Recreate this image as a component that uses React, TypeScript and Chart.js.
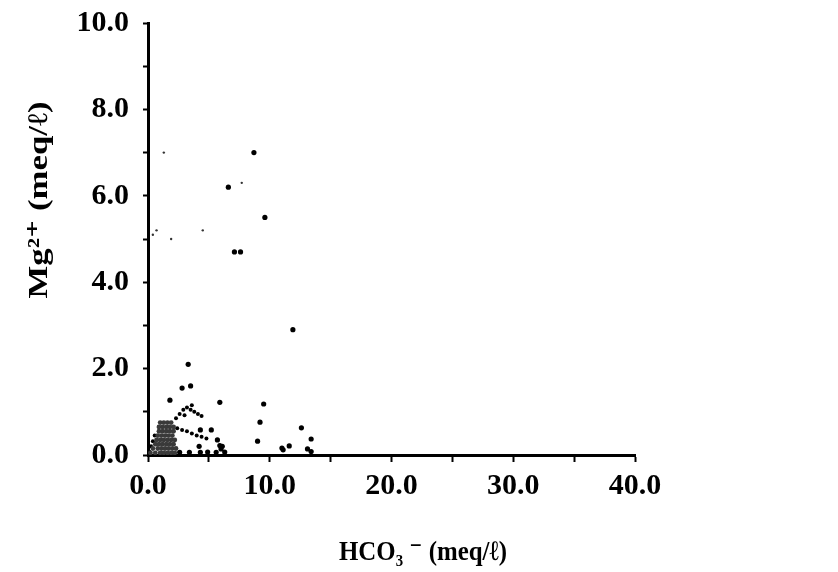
import React, { useEffect, useRef } from "react";
import { Chart, registerables } from "chart.js";

Chart.register(...registerables);

// Isolated sample points: HCO3- (meq/l) vs Mg2+ (meq/l)
const mainX = [8.7, 6.6, 9.6, 7.1, 7.6, 11.9, 3.3, 2.8, 3.5, 1.8, 5.9, 9.5, 9.2, 12.6, 13.4, 9.0, 11.6, 11.1, 11.0, 13.1, 13.4, 4.3, 5.2, 5.7, 5.9, 6.0, 4.2, 6.1, 2.6, 3.4, 4.3, 4.9, 5.6, 6.3];
const mainY = [7.0, 6.2, 5.5, 4.7, 4.7, 2.9, 2.1, 1.55, 1.6, 1.27, 1.22, 1.18, 0.76, 0.63, 0.37, 0.32, 0.21, 0.12, 0.16, 0.14, 0.08, 0.58, 0.58, 0.35, 0.22, 0.14, 0.2, 0.2, 0.06, 0.06, 0.06, 0.07, 0.06, 0.07];

// Faint small marks
const faintX = [1.3, 0.7, 0.4, 4.5, 7.7, 1.9];
const faintY = [7.0, 5.2, 5.1, 5.2, 6.3, 5.0];

// Dense cluster near the origin (overlapping samples)
const clusterX = [
  1.0, 1.3, 1.6, 1.9,
  0.9, 1.2, 1.5, 1.8, 2.1,
  0.9, 1.2, 1.5, 1.8, 2.1,
  0.8, 1.1, 1.4, 1.7, 2.0,
  0.7, 1.0, 1.3, 1.6, 1.9, 2.2,
  0.6, 0.9, 1.2, 1.5, 1.8, 2.1,
  0.4, 0.8, 1.1, 1.4, 1.7, 2.0, 2.3,
  0.2, 0.6, 1.0, 1.3, 1.6, 1.9, 2.2,
];
const clusterY = [
  0.75, 0.75, 0.75, 0.75,
  0.65, 0.65, 0.65, 0.65, 0.65,
  0.55, 0.55, 0.55, 0.55, 0.55,
  0.45, 0.45, 0.45, 0.45, 0.45,
  0.35, 0.35, 0.35, 0.35, 0.35, 0.35,
  0.25, 0.25, 0.25, 0.25, 0.25, 0.25,
  0.15, 0.15, 0.15, 0.15, 0.15, 0.15, 0.15,
  0.05, 0.05, 0.05, 0.05, 0.05, 0.05, 0.05,
];

// Branching streaks of points to the right of the cluster
const branchX = [2.3, 2.6, 2.9, 3.2, 3.5, 3.8, 4.1, 4.4, 3.0, 3.6, 2.4, 2.8, 3.2, 3.6, 4.0, 4.4, 4.8, 0.1, 0.25, 0.4, 0.55];
const branchY = [0.85, 0.95, 1.05, 1.1, 1.05, 1.0, 0.95, 0.9, 0.92, 1.15, 0.62, 0.58, 0.55, 0.5, 0.45, 0.42, 0.38, 0.08, 0.2, 0.32, 0.45];

const xMin = 0;
const xMax = 40;
const yMin = 0;
const yMax = 10;
const xTitle = "HCO\u2083 \u207B (meq/\u2113)";
const yTitle = "Mg\u00B2\u207A (meq/\u2113)";

const pts = (xs: number[], ys: number[]) => xs.map((x, i) => ({ x, y: ys[i] }));

const FONT = "'Liberation Serif', 'DejaVu Serif', serif";

const titlePlugin = {
  id: "axisTitles",
  afterDraw(chart: any) {
    const { ctx, chartArea } = chart;
    ctx.save();
    ctx.fillStyle = "#000";
    ctx.font = `bold 28px ${FONT}`;
    ctx.textAlign = "center";
    ctx.textBaseline = "middle";
    const xw = ctx.measureText(xTitle).width;
    const xs = 168 / xw;
    ctx.save();
    ctx.translate(chartArea.left + 275, chartArea.bottom + 98);
    ctx.scale(xs, 1);
    ctx.fillText(xTitle, 0, 0);
    ctx.restore();
    const yw = ctx.measureText(yTitle).width;
    const ys = 197 / yw;
    ctx.save();
    ctx.translate(40, chartArea.top + 177);
    ctx.rotate(-Math.PI / 2);
    ctx.scale(ys, 1);
    ctx.fillText(yTitle, 0, 0);
    ctx.restore();
    ctx.restore();
  },
};

export default function App() {
  const ref = useRef<HTMLCanvasElement>(null);
  useEffect(() => {
    if (!ref.current) return;
    const chart = new Chart(ref.current, {
      type: "scatter",
      data: {
        datasets: [
          {
            label: "cluster",
            data: pts(clusterX, clusterY),
            pointRadius: 2.4,
            pointBackgroundColor: "#3a3a3a",
            pointBorderWidth: 0,
          },
          {
            label: "branch",
            data: pts(branchX, branchY),
            pointRadius: 2.0,
            pointBackgroundColor: "#000",
            pointBorderWidth: 0,
          },
          {
            label: "faint",
            data: pts(faintX, faintY),
            pointRadius: 1.2,
            pointBackgroundColor: "#333",
            pointBorderWidth: 0,
          },
          {
            label: "samples",
            data: pts(mainX, mainY),
            pointRadius: 2.6,
            pointBackgroundColor: "#000",
            pointBorderWidth: 0,
          },
        ],
      },
      options: {
        responsive: false,
        animation: false,
        events: [],
        layout: { padding: { top: 21, right: 203, left: 0, bottom: 0 } },
        plugins: { legend: { display: false }, tooltip: { enabled: false } },
        scales: {
          x: {
            type: "linear",
            min: xMin,
            max: xMax,
            afterFit: (s: any) => {
              s.height = 117;
            },
            ticks: {
              stepSize: 5,
              autoSkip: false,
              maxRotation: 0,
              padding: 6,
              color: "#000",
              font: { family: FONT, size: 30, weight: "bold" },
              callback: (v: any) => (Number(v) % 10 === 0 ? Number(v).toFixed(1) : ""),
            },
            grid: {
              drawOnChartArea: false,
              drawTicks: true,
              tickLength: 7,
              tickWidth: 2,
              tickColor: "#000",
            },
            border: { display: true, color: "#000", width: 3 },
          },
          y: {
            type: "linear",
            min: yMin,
            max: yMax,
            afterFit: (s: any) => {
              s.width = 148;
            },
            ticks: {
              stepSize: 1,
              autoSkip: false,
              padding: 14,
              color: "#000",
              font: { family: FONT, size: 30, weight: "bold", lineHeight: 0.6 },
              callback: (v: any) => (Number(v) % 2 === 0 ? Number(v).toFixed(1) : ""),
            },
            grid: {
              drawOnChartArea: false,
              drawTicks: true,
              tickLength: 5,
              tickWidth: 2,
              tickColor: "#000",
            },
            border: { display: true, color: "#000", width: 3 },
          },
        },
      },
      plugins: [titlePlugin],
    });
    return () => chart.destroy();
  }, []);
  return (
    <div style={{ position: "fixed", left: 0, top: 0, width: 838, height: 572, background: "#fff" }}>
      <canvas ref={ref} width={838} height={572} />
    </div>
  );
}
